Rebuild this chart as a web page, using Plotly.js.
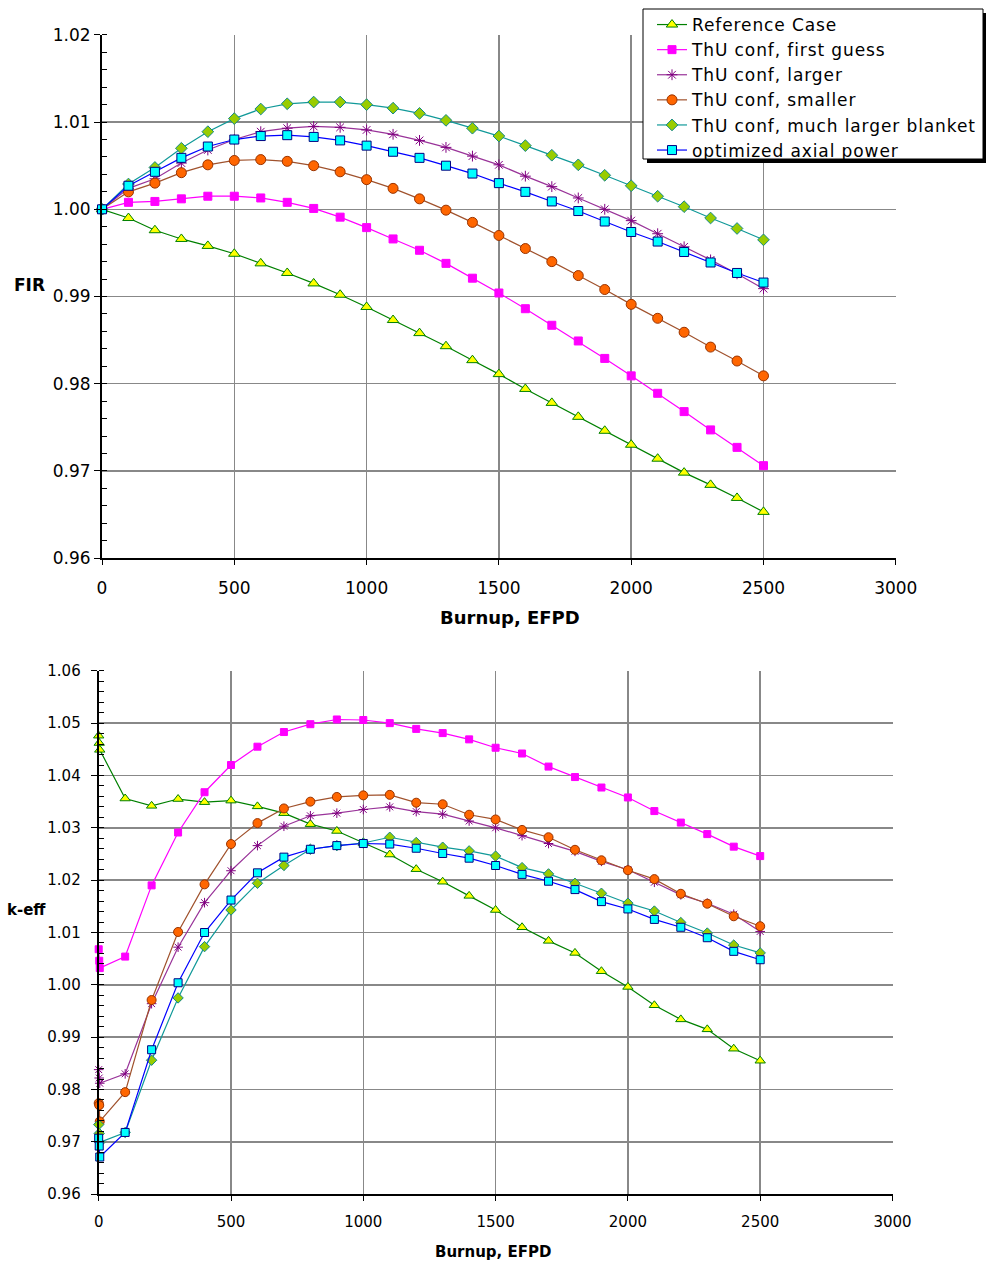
<!DOCTYPE html>
<html>
<head>
<meta charset="utf-8">
<script src="https://cdn.plot.ly/plotly-3.0.1.min.js"></script>
<style>
  html, body { margin: 0; padding: 0; background: #ffffff; }
  #chart { width: 986px; height: 1264px; }
  text.legendtext { letter-spacing: 0.9px; }
</style>
</head>
<body>
<div id="chart"></div>
<script>
// ---------- Data ----------
const seriesNames = [
  "Reference Case",
  "ThU conf, first guess",
  "ThU conf, larger",
  "ThU conf, smaller",
  "ThU conf, much larger blanket",
  "optimized axial power"
];

// Top chart: FIR vs burnup
const burnupFIR = [0,100,200,300,400,500,600,700,800,900,1000,1100,1200,1300,1400,1500,1600,1700,1800,1900,2000,2100,2200,2300,2400,2500];
const firReference = [1.0000,0.9990,0.9976,0.9966,0.9958,0.9949,0.9938,0.9927,0.9915,0.9902,0.9888,0.9873,0.9858,0.9843,0.9827,0.9811,0.9794,0.9778,0.9762,0.9746,0.9730,0.9714,0.9698,0.9684,0.9669,0.9653];
const firFirstGuess = [1.0000,1.0008,1.0009,1.0012,1.0015,1.0015,1.0013,1.0008,1.0001,0.9991,0.9979,0.9966,0.9953,0.9938,0.9921,0.9904,0.9886,0.9867,0.9849,0.9829,0.9809,0.9789,0.9768,0.9747,0.9727,0.9706];
const firLarger = [1.0000,1.0024,1.0035,1.0053,1.0068,1.0080,1.0089,1.0093,1.0095,1.0094,1.0091,1.0086,1.0079,1.0071,1.0061,1.0051,1.0038,1.0026,1.0013,1.0000,0.9987,0.9972,0.9957,0.9942,0.9926,0.9909];
const firSmaller = [1.0000,1.0020,1.0030,1.0042,1.0051,1.0056,1.0057,1.0055,1.0050,1.0043,1.0034,1.0024,1.0012,0.9999,0.9985,0.9970,0.9955,0.9940,0.9924,0.9908,0.9891,0.9875,0.9859,0.9842,0.9826,0.9809];
const firMuchLarger = [1.0000,1.0029,1.0048,1.0070,1.0089,1.0104,1.0115,1.0121,1.0123,1.0123,1.0120,1.0116,1.0110,1.0102,1.0093,1.0084,1.0073,1.0062,1.0051,1.0039,1.0027,1.0015,1.0003,0.9990,0.9978,0.9965];
const firOptimized = [1.0000,1.0027,1.0043,1.0059,1.0072,1.0080,1.0084,1.0085,1.0083,1.0079,1.0073,1.0066,1.0059,1.0050,1.0041,1.0030,1.0020,1.0009,0.9998,0.9986,0.9974,0.9963,0.9951,0.9939,0.9927,0.9916];

// Bottom chart: k-eff vs burnup
const burnupK = [0,2,4,100,200,300,400,500,600,700,800,900,1000,1100,1200,1300,1400,1500,1600,1700,1800,1900,2000,2100,2200,2300,2400,2500];
const kReference = [1.0476,1.0462,1.0449,1.0356,1.0342,1.0355,1.0349,1.0352,1.0341,1.0328,1.0307,1.0294,1.0271,1.0249,1.0221,1.0197,1.0170,1.0143,1.0110,1.0084,1.0061,1.0026,0.9996,0.9961,0.9934,0.9915,0.9878,0.9855];
const kFirstGuess = [1.0068,1.0046,1.0032,1.0054,1.0190,1.0291,1.0368,1.0420,1.0455,1.0483,1.0498,1.0507,1.0506,1.0500,1.0489,1.0481,1.0469,1.0453,1.0442,1.0417,1.0397,1.0377,1.0358,1.0332,1.0310,1.0288,1.0264,1.0246];
const kLarger = [0.9838,0.9822,0.9812,0.9830,0.9964,1.0072,1.0157,1.0218,1.0266,1.0303,1.0323,1.0328,1.0335,1.0340,1.0331,1.0326,1.0313,1.0300,1.0285,1.0270,1.0255,1.0236,1.0220,1.0196,1.0172,1.0156,1.0135,1.0102];
const kSmaller = [0.9774,0.9770,0.9739,0.9795,0.9971,1.0101,1.0192,1.0269,1.0309,1.0337,1.0350,1.0359,1.0362,1.0363,1.0348,1.0345,1.0325,1.0316,1.0296,1.0282,1.0258,1.0238,1.0219,1.0202,1.0174,1.0155,1.0131,1.0112];
const kMuchLarger = [0.9733,0.9716,0.9699,0.9718,0.9856,0.9975,1.0073,1.0143,1.0194,1.0228,1.0259,1.0266,1.0271,1.0282,1.0272,1.0263,1.0256,1.0246,1.0224,1.0212,1.0194,1.0175,1.0156,1.0141,1.0119,1.0099,1.0076,1.0061];
const kOptimized = [0.9707,0.9692,0.9671,0.9718,0.9876,1.0004,1.0100,1.0162,1.0214,1.0244,1.0259,1.0266,1.0270,1.0269,1.0261,1.0251,1.0242,1.0228,1.0211,1.0198,1.0182,1.0159,1.0145,1.0125,1.0110,1.0090,1.0064,1.0048];

const xTickVals = [0,500,1000,1500,2000,2500,3000];

// ---------- Styles ----------
const styles = [
  {line: "#008000", symbol: "triangle-up", fill: "#FFFF00", edge: "#008000", size: 10},
  {line: "#FF00FF", symbol: "square", fill: "#FF00FF", edge: "#FF00FF", size: 8},
  {line: "#993399", symbol: "asterisk-open", fill: "#800080", edge: "#800080", size: 9},
  {line: "#A0522D", symbol: "circle", fill: "#FF6600", edge: "#993300", size: 10},
  {line: "#119999", symbol: "diamond", fill: "#99CC00", edge: "#118888", size: 9},
  {line: "#0000FF", symbol: "square", fill: "#00FFFF", edge: "#000080", size: 9}
];

const firSeries = [firReference, firFirstGuess, firLarger, firSmaller, firMuchLarger, firOptimized];
const kSeries = [kReference, kFirstGuess, kLarger, kSmaller, kMuchLarger, kOptimized];

const traces = [];
firSeries.forEach((ys, i) => {
  const s = styles[i];
  traces.push({
    x: burnupFIR, y: ys, type: "scatter", mode: "lines+markers",
    name: seriesNames[i], xaxis: "x", yaxis: "y", cliponaxis: false,
    line: {color: s.line, width: 1.2},
    marker: {symbol: s.symbol, size: s.size, color: s.fill, line: {color: s.edge, width: 1}}
  });
});
kSeries.forEach((ys, i) => {
  const s = styles[i];
  traces.push({
    x: burnupK, y: ys, type: "scatter", mode: "lines+markers",
    name: seriesNames[i], xaxis: "x2", yaxis: "y2", cliponaxis: false, showlegend: false,
    line: {color: s.line, width: 1.2},
    marker: {symbol: s.symbol, size: s.size - 1, color: s.fill, line: {color: s.edge, width: 1}}
  });
});

const W = 986, H = 1264;
const px = v => v / W;
const py = v => 1 - v / H;

const fontFam = "DejaVu Sans, Verdana, sans-serif";

function xAxis(domain, anchor, fsize) {
  return {
    domain: domain, anchor: anchor, range: [0, 3000],
    tickvals: xTickVals, ticktext: xTickVals.map(String),
    showgrid: true, gridcolor: "#888888", gridwidth: 1.5,
    showline: true, linecolor: "#000000", linewidth: 2,
    ticks: "outside", ticklen: 5, tickcolor: "#000000",
    ticklabelstandoff: 8,
    zeroline: false, tickfont: {family: fontFam, size: fsize, color: "#000"}
  };
}
function yAxis(domain, anchor, range, fsize, standoff) {
  return {
    domain: domain, anchor: anchor, range: range,
    dtick: 0.01, tick0: 0.96, tickformat: ".2f",
    showgrid: true, gridcolor: "#888888", gridwidth: 1.5,
    showline: true, linecolor: "#000000", linewidth: 2,
    ticks: "outside", ticklen: 6, tickcolor: "#000000",
    ticklabelstandoff: standoff,
    minor: {dtick: 0.002, ticks: "inside", ticklen: 5, tickcolor: "#000000", showgrid: false},
    zeroline: false, tickfont: {family: fontFam, size: fsize, color: "#000"}
  };
}

const layout = {
  width: W, height: H,
  margin: {l: 0, r: 0, t: 0, b: 0},
  paper_bgcolor: "#ffffff", plot_bgcolor: "#ffffff",
  showlegend: true,
  xaxis: xAxis([px(102), px(895.8)], "y", 17),
  yaxis: yAxis([py(558.1), py(34.9)], "x", [0.96, 1.02], 17, 0),
  xaxis2: xAxis([px(98.7), px(892.5)], "y2", 15),
  yaxis2: yAxis([py(1194.2), py(670.8)], "x2", [0.96, 1.06], 15, 7),
  legend: {
    x: px(652), y: py(7), xanchor: "left", yanchor: "top",
    bgcolor: "rgba(0,0,0,0)", borderwidth: 0,
    font: {family: fontFam, size: 17, color: "#000"},
    itemclick: false
  },
  shapes: [
    {type: "rect", xref: "paper", yref: "paper", layer: "above",
     x0: px(647), x1: px(990), y0: py(163), y1: py(13),
     fillcolor: "#000000", line: {width: 0}},
    {type: "rect", xref: "paper", yref: "paper", layer: "above",
     x0: px(643), x1: px(983), y0: py(159), y1: py(9),
     fillcolor: "#ffffff", line: {color: "#000000", width: 1}}
  ],
  annotations: [
    {text: "<b>Burnup, EFPD</b>", xref: "paper", yref: "paper", x: px(510), y: py(617),
     xanchor: "center", yanchor: "middle",
     showarrow: false, font: {family: fontFam, size: 18, color: "#000"}},
    {text: "<b>FIR</b>", xref: "paper", yref: "paper", x: px(29), y: py(285),
     xanchor: "center", yanchor: "middle",
     showarrow: false, font: {family: fontFam, size: 17, color: "#000"}},
    {text: "<b>Burnup, EFPD</b>", xref: "paper", yref: "paper", x: px(493), y: py(1252),
     xanchor: "center", yanchor: "middle",
     showarrow: false, font: {family: fontFam, size: 15, color: "#000"}},
    {text: "<b>k-eff</b>", xref: "paper", yref: "paper", x: px(26), y: py(910),
     xanchor: "center", yanchor: "middle",
     showarrow: false, font: {family: fontFam, size: 15, color: "#000"}}
  ]
};

Plotly.newPlot("chart", traces, layout, {staticPlot: true, displayModeBar: false});
</script>
</body>
</html>
